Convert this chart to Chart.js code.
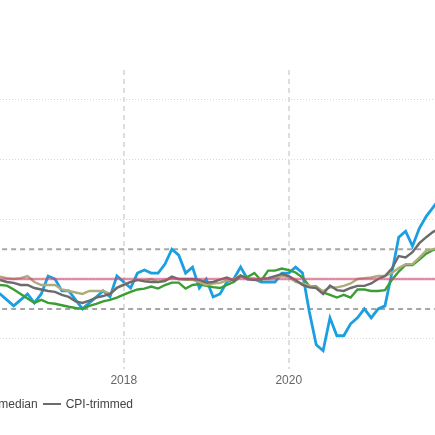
<!DOCTYPE html>
<html lang="en">
<head>
    <meta charset="UTF-8">
    <title>CPI and core measures</title>
    <script src="https://cdn.jsdelivr.net/npm/chart.js"></script>
    <style>
        html, body { margin: 0; padding: 0; background: #fff; overflow: hidden; }
        #wrap { position: relative; width: 435px; height: 435px; }
        #legend {
            position: absolute; top: 397px; right: 302px;
            white-space: nowrap; font: 12px "Liberation Sans", Arial, sans-serif; color: #444;
        }
        #legend .item { margin-left: 5px; }
        #legend .swatch { display: inline-block; width: 18px; height: 2px; vertical-align: middle; margin-right: 5px; position: relative; top: -1px; }
    </style>
</head>
<body>
<div id="wrap">
    <canvas id="chart" width="435" height="435"></canvas>
    <div id="legend"></div>
</div>
<script>
    // month-end dates, May 2016 .. Oct 2021
    const months = [
        '2016-05', '2016-06', '2016-07', '2016-08', '2016-09', '2016-10', '2016-11', '2016-12',
        '2017-01', '2017-02', '2017-03', '2017-04', '2017-05', '2017-06', '2017-07', '2017-08', '2017-09', '2017-10', '2017-11', '2017-12',
        '2018-01', '2018-02', '2018-03', '2018-04', '2018-05', '2018-06', '2018-07', '2018-08', '2018-09', '2018-10', '2018-11', '2018-12',
        '2019-01', '2019-02', '2019-03', '2019-04', '2019-05', '2019-06', '2019-07', '2019-08', '2019-09', '2019-10', '2019-11', '2019-12',
        '2020-01', '2020-02', '2020-03', '2020-04', '2020-05', '2020-06', '2020-07', '2020-08', '2020-09', '2020-10', '2020-11', '2020-12',
        '2021-01', '2021-02', '2021-03', '2021-04', '2021-05', '2021-06', '2021-07', '2021-08', '2021-09', '2021-10'
    ];

    const cpi = [
        1.5, 1.5, 1.3, 1.1, 1.3, 1.5, 1.2, 1.5,
        2.1, 2.0, 1.6, 1.6, 1.3, 1.0, 1.2, 1.4, 1.6, 1.4, 2.1, 1.9,
        1.7, 2.2, 2.3, 2.2, 2.2, 2.5, 3.0, 2.8, 2.2, 2.4, 1.7, 2.0,
        1.4, 1.5, 1.9, 2.0, 2.4, 2.0, 2.0, 1.9, 1.9, 1.9, 2.2, 2.2,
        2.4, 2.2, 0.9, -0.2, -0.4, 0.7, 0.1, 0.1, 0.5, 0.7, 1.0, 0.7,
        1.0, 1.1, 2.2, 3.4, 3.6, 3.1, 3.7, 4.1, 4.4, 4.7
    ];

    const cpiCommon = [
        1.8, 1.8, 1.78, 1.65, 1.5, 1.35, 1.2, 1.3,
        1.2, 1.17, 1.12, 1.07, 1.03, 1.0, 1.1, 1.17, 1.25, 1.3, 1.38, 1.48,
        1.57, 1.65, 1.68, 1.75, 1.68, 1.8, 1.88, 1.88, 1.68, 1.8, 1.83, 1.77,
        1.73, 1.7, 1.8, 1.9, 2.08, 2.07, 2.2, 1.95, 2.28, 2.28, 2.35, 2.3,
        2.22, 2.05, 1.77, 1.75, 1.55, 1.47, 1.38, 1.47, 1.38, 1.65, 1.65, 1.6,
        1.6, 1.63, 1.97, 2.25, 2.47, 2.47, 2.65, 2.85, 2.97, 3.05
    ];

    const cpiMedian = [
        2.05, 2.08, 2.03, 2.0, 2.03, 2.1, 1.9, 1.8,
        1.8, 1.8, 1.65, 1.6, 1.55, 1.5, 1.6, 1.6, 1.6, 1.5, 1.72, 1.83,
        1.9, 1.97, 1.95, 2.0, 1.9, 1.97, 2.03, 2.0, 1.97, 1.97, 1.9, 1.8,
        1.85, 1.87, 1.95, 2.0, 2.1, 2.0, 2.0, 2.0, 2.0, 2.05, 2.1, 2.07,
        1.9, 1.85, 1.78, 1.73, 1.6, 1.72, 1.72, 1.77, 1.85, 2.0, 2.03, 2.05,
        2.1, 2.1, 2.2, 2.37, 2.5, 2.5, 2.72, 2.95, 3.0, 3.05
    ];

    const cpiTrim = [
        2.0, 1.97, 1.9, 1.87, 1.8, 1.8, 1.7, 1.65,
        1.6, 1.57, 1.47, 1.4, 1.25, 1.2, 1.28, 1.38, 1.43, 1.5, 1.7, 1.8,
        1.9, 1.97, 1.92, 1.9, 1.9, 1.93, 2.08, 2.0, 2.0, 2.0, 1.97, 1.88,
        1.9, 1.98, 2.05, 1.95, 2.12, 2.0, 1.97, 2.0, 2.03, 2.1, 2.17, 2.1,
        1.97, 1.8, 1.72, 1.7, 1.5, 1.78, 1.63, 1.6, 1.7, 1.77, 1.77, 1.85,
        2.0, 2.1, 2.35, 2.77, 2.72, 2.9, 3.2, 3.4, 3.58, 3.7
    ];

    const target = 2;
    const bandEdges = [1, 3];
    const yearTicks = [2018, 2020];
    const yTicks = [0, 2, 4, 6, 8];

    // visible window of the x axis (decimal years)
    const xMin = 2016.5;
    const xMax = 2021.773;

    function toYear(m) {
        const [y, mo] = m.split('-').map(Number);
        return y + mo / 12;
    }
    const xs = months.map(toYear);
    const pts = vals => vals.map((v, i) => ({ x: xs[i], y: v }));
    const flat = v => [{ x: xs[0], y: v }, { x: xs[xs.length - 1], y: v }];

    const series = [
        { label: 'CPI', data: cpi, color: '#1a9fe0', width: 2.8 },
        { label: 'CPI-common', data: cpiCommon, color: '#3b9e35', width: 2.4 },
        { label: 'CPI-median', data: cpiMedian, color: '#b1ab7c', width: 2.4 },
        { label: 'CPI-trimmed', data: cpiTrim, color: '#6b6b6b', width: 2.4 }
    ];

    const datasets = [];
    bandEdges.forEach(v => datasets.push({
        label: 'band', data: flat(v), borderColor: '#a6a6a6', borderWidth: 2,
        borderDash: [5, 4], pointRadius: 0, order: 10
    }));
    series.slice().reverse().forEach(s => datasets.push({
        label: s.label, data: pts(s.data), borderColor: s.color, borderWidth: s.width,
        pointRadius: 0, tension: 0, order: 5
    }));
    datasets.push({
        label: 'target', data: flat(target), borderColor: 'rgba(205, 70, 115, 0.6)', borderWidth: 2.5,
        pointRadius: 0, order: 1
    });

    new Chart(document.getElementById('chart'), {
        type: 'line',
        data: { datasets: datasets },
        options: {
            responsive: false,
            animation: false,
            layout: { padding: { top: 70, bottom: 42, left: 0, right: 0 } },
            plugins: { legend: { display: false }, tooltip: { enabled: false } },
            scales: {
                x: {
                    type: 'linear', min: xMin, max: xMax,
                    afterBuildTicks: s => { s.ticks = yearTicks.map(v => ({ value: v })); },
                    ticks: { callback: v => String(v), color: '#666', font: { family: 'Liberation Sans', size: 12 }, padding: 5, maxRotation: 0 },
                    grid: { color: '#dedede', lineWidth: 2, drawTicks: false },
                    border: { display: false, dash: [5, 4] }
                },
                y: {
                    min: -1, max: 9,
                    afterBuildTicks: s => { s.ticks = yTicks.map(v => ({ value: v })); },
                    ticks: { display: false },
                    grid: { color: '#d8d8d8', lineWidth: 1, drawTicks: false },
                    border: { display: false, dash: [1, 2] }
                }
            }
        }
    });

    // legend
    const legend = document.getElementById('legend');
    series.forEach(s => {
        const item = document.createElement('span');
        item.className = 'item';
        item.innerHTML = '<span class="swatch" style="background:' + s.color + '"></span>' + s.label;
        legend.appendChild(item);
    });
</script>
</body>
</html>
